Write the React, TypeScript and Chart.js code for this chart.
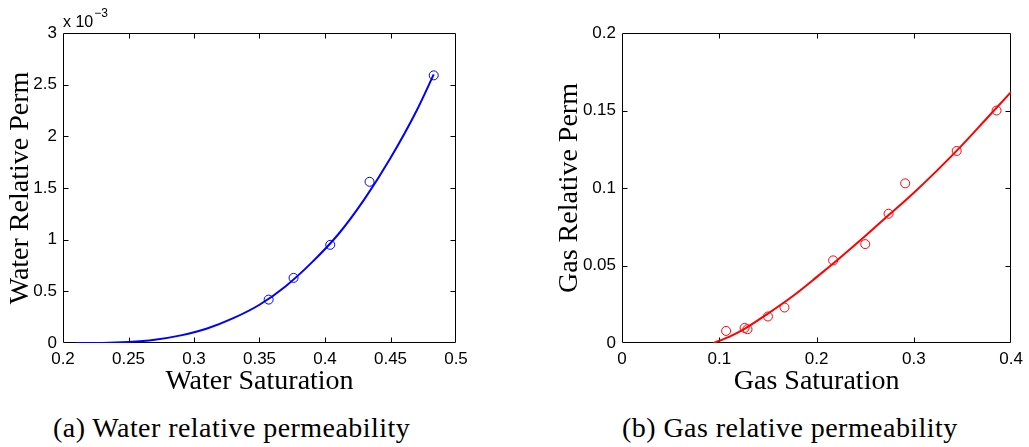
import React, { useEffect, useRef } from 'react';
import { Chart, registerables } from 'chart.js';

Chart.register(...registerables);

// ---------- Panel (a): water relative permeability ----------
const waterSatMeasured = [0.357, 0.376, 0.404, 0.434, 0.483];
const waterKrMeasured = [0.00042, 0.00063, 0.00095, 0.00156, 0.00259];
const waterSatFit = [0.21, 0.23, 0.25, 0.27, 0.29, 0.31, 0.33, 0.35, 0.37, 0.39, 0.41, 0.43, 0.45, 0.47, 0.483];
const waterKrFit = [0, 0.000001, 0.00001, 0.000032, 0.000074, 0.00014, 0.00024, 0.00037, 0.00055, 0.00078, 0.00105, 0.00139, 0.00179, 0.00225, 0.0026];
const waterXTicks = [0.2, 0.25, 0.3, 0.35, 0.4, 0.45, 0.5];
const waterXTickLabels = ['0.2', '0.25', '0.3', '0.35', '0.4', '0.45', '0.5'];
const waterYTicks = [0, 0.0005, 0.001, 0.0015, 0.002, 0.0025, 0.003];
const waterYTickLabels = ['0', '0.5', '1', '1.5', '2', '2.5', '3'];

// ---------- Panel (b): gas relative permeability ----------
const gasSatMeasured = [0.107, 0.126, 0.129, 0.15, 0.167, 0.217, 0.25, 0.274, 0.291, 0.344, 0.385];
const gasKrMeasured = [0.0078, 0.0097, 0.0089, 0.0171, 0.0229, 0.0533, 0.0638, 0.0834, 0.103, 0.1239, 0.15];
const gasSatFit = [0.094, 0.11, 0.125, 0.15, 0.175, 0.2, 0.225, 0.25, 0.275, 0.3, 0.325, 0.35, 0.375, 0.4];
const gasKrFit = [0, 0.004, 0.0088, 0.019, 0.03, 0.0425, 0.0555, 0.069, 0.083, 0.097, 0.112, 0.128, 0.145, 0.162];
const gasXTicks = [0, 0.1, 0.2, 0.3, 0.4];
const gasXTickLabels = ['0', '0.1', '0.2', '0.3', '0.4'];
const gasYTicks = [0, 0.05, 0.1, 0.15, 0.2];
const gasYTickLabels = ['0', '0.05', '0.1', '0.15', '0.2'];

const SANS = '"Liberation Sans", Arial, Helvetica, sans-serif';
const SERIF = '"Liberation Serif", "Times New Roman", serif';

const framePlugin = {
  id: 'matlabFrame',
  beforeDatasetsDraw(chart: any) {
    const { ctx, chartArea: a, scales } = chart;
    const L = Math.round(a.left) + 0.5;
    const R = Math.round(a.right) - 0.5;
    const T = Math.round(a.top) + 0.5;
    const B = Math.round(a.bottom) - 0.5;
    const tick = 5;
    ctx.save();
    ctx.strokeStyle = '#000';
    ctx.lineWidth = 1;
    ctx.beginPath();
    ctx.rect(L, T, R - L, B - T);
    scales.x.ticks.forEach((t: any) => {
      const px = Math.round(scales.x.getPixelForValue(t.value)) + 0.5;
      if (px <= L + 1 || px >= R - 1) return;
      ctx.moveTo(px, B);
      ctx.lineTo(px, B - tick);
      ctx.moveTo(px, T);
      ctx.lineTo(px, T + tick);
    });
    scales.y.ticks.forEach((t: any) => {
      const py = Math.round(scales.y.getPixelForValue(t.value)) + 0.5;
      if (py <= T + 1 || py >= B - 1) return;
      ctx.moveTo(L, py);
      ctx.lineTo(L + tick, py);
      ctx.moveTo(R, py);
      ctx.lineTo(R - tick, py);
    });
    ctx.stroke();
    ctx.restore();
  },
  afterDraw(chart: any, _args: any, opts: any) {
    if (!opts || !opts.exponent) return;
    const { ctx, chartArea: a } = chart;
    ctx.save();
    ctx.fillStyle = '#000';
    ctx.textBaseline = 'alphabetic';
    ctx.textAlign = 'left';
    ctx.font = `16px ${SANS}`;
    const base = 'x 10';
    ctx.fillText(base, a.left, a.top - 6);
    const w = ctx.measureText(base).width;
    ctx.font = `12px ${SANS}`;
    ctx.fillText(opts.exponent, a.left + w + 1, a.top - 16);
    ctx.restore();
  },
};

type PanelProps = {
  left: number;
  width: number;
  height: number;
  yAxisWidth: number;
  xAxisHeight: number;
  padTop: number;
  padRight: number;
  yTitlePad: number;
  xTitle: string;
  yTitle: string;
  xMin: number;
  xMax: number;
  yMin: number;
  yMax: number;
  xTicks: number[];
  xTickLabels: string[];
  yTicks: number[];
  yTickLabels: string[];
  measX: number[];
  measY: number[];
  fitX: number[];
  fitY: number[];
  color: string;
  exponent?: string;
};

function Panel(p: PanelProps) {
  const ref = useRef<HTMLCanvasElement | null>(null);
  useEffect(() => {
    if (!ref.current) return;
    const tickFont = { family: SANS, size: 17 };
    const titleFont = { family: SERIF, size: 28, weight: 'normal' as const };
    const chart = new Chart(ref.current, {
      type: 'line',
      data: {
        datasets: [
          {
            label: 'fit',
            data: p.fitX.map((x, i) => ({ x, y: p.fitY[i] })),
            borderColor: p.color,
            borderWidth: 2,
            pointRadius: 0,
            cubicInterpolationMode: 'monotone',
            fill: false,
            order: 1,
          } as any,
          {
            label: 'measured',
            data: p.measX.map((x, i) => ({ x, y: p.measY[i] })),
            showLine: false,
            pointStyle: 'circle',
            pointRadius: 4.5,
            borderColor: p.color,
            backgroundColor: 'rgba(0,0,0,0)',
            pointBorderWidth: 1,
            borderWidth: 1,
            order: 0,
          } as any,
        ],
      },
      options: {
        responsive: false,
        animation: false,
        devicePixelRatio: 1,
        layout: { padding: { left: 0, top: p.padTop, right: p.padRight, bottom: 0 } },
        plugins: {
          legend: { display: false },
          tooltip: { enabled: false },
          matlabFrame: { exponent: p.exponent },
        } as any,
        scales: {
          x: {
            type: 'linear',
            position: 'bottom',
            min: p.xMin,
            max: p.xMax,
            grid: { display: false, drawTicks: false },
            border: { display: false },
            afterBuildTicks: (s: any) => {
              s.ticks = p.xTicks.map((v) => ({ value: v }));
            },
            afterFit: (s: any) => {
              s.height = p.xAxisHeight;
            },
            ticks: {
              autoSkip: false,
              maxRotation: 0,
              minRotation: 0,
              padding: 6,
              color: '#000',
              font: tickFont,
              callback: (_v: any, i: number) => p.xTickLabels[i],
            },
            title: {
              display: true,
              text: p.xTitle,
              color: '#000',
              font: titleFont,
              padding: { top: 0, bottom: 2 },
            },
          },
          y: {
            type: 'linear',
            position: 'left',
            min: p.yMin,
            max: p.yMax,
            grid: { display: false, drawTicks: false },
            border: { display: false },
            afterBuildTicks: (s: any) => {
              s.ticks = p.yTicks.map((v) => ({ value: v }));
            },
            afterFit: (s: any) => {
              s.width = p.yAxisWidth;
            },
            ticks: {
              autoSkip: false,
              padding: 6,
              color: '#000',
              font: tickFont,
              callback: (_v: any, i: number) => p.yTickLabels[i],
            },
            title: {
              display: true,
              text: p.yTitle,
              color: '#000',
              font: titleFont,
              padding: { top: p.yTitlePad, bottom: 0 },
            },
          },
        },
      } as any,
      plugins: [framePlugin as any],
    });
    return () => chart.destroy();
  }, []);
  return (
    <canvas
      ref={ref}
      width={p.width}
      height={p.height}
      style={{ position: 'absolute', left: p.left, top: 0, width: p.width, height: p.height }}
    />
  );
}

const captionStyle: React.CSSProperties = {
  position: 'absolute',
  top: 414,
  fontFamily: SERIF,
  fontSize: 28,
  lineHeight: '28px',
  letterSpacing: '0.45px',
  color: '#000',
  whiteSpace: 'nowrap',
};

export default function App() {
  return (
    <div
      style={{
        position: 'absolute',
        left: 0,
        top: 0,
        width: 1029,
        height: 447,
        background: '#fff',
        overflow: 'hidden',
      }}
    >
      <Panel
        left={0}
        width={540}
        height={400}
        yAxisWidth={63}
        xAxisHeight={57}
        padTop={33}
        padRight={84}
        yTitlePad={4}
        xTitle="Water Saturation"
        yTitle="Water Relative Perm"
        xMin={0.2}
        xMax={0.5}
        yMin={0}
        yMax={0.003}
        xTicks={waterXTicks}
        xTickLabels={waterXTickLabels}
        yTicks={waterYTicks}
        yTickLabels={waterYTickLabels}
        measX={waterSatMeasured}
        measY={waterKrMeasured}
        fitX={waterSatFit}
        fitY={waterKrFit}
        color="#0000ff"
        exponent="−3"
      />
      <Panel
        left={540}
        width={489}
        height={400}
        yAxisWidth={82}
        xAxisHeight={57}
        padTop={33}
        padRight={14}
        yTitlePad={13}
        xTitle="Gas Saturation"
        yTitle="Gas Relative Perm"
        xMin={0}
        xMax={0.4}
        yMin={0}
        yMax={0.2}
        xTicks={gasXTicks}
        xTickLabels={gasXTickLabels}
        yTicks={gasYTicks}
        yTickLabels={gasYTickLabels}
        measX={gasSatMeasured}
        measY={gasKrMeasured}
        fitX={gasSatFit}
        fitY={gasKrFit}
        color="#ff0000"
      />
      <div style={{ ...captionStyle, left: 53 }}>(a) Water relative permeability</div>
      <div style={{ ...captionStyle, left: 622 }}>(b) Gas relative permeability</div>
    </div>
  );
}
